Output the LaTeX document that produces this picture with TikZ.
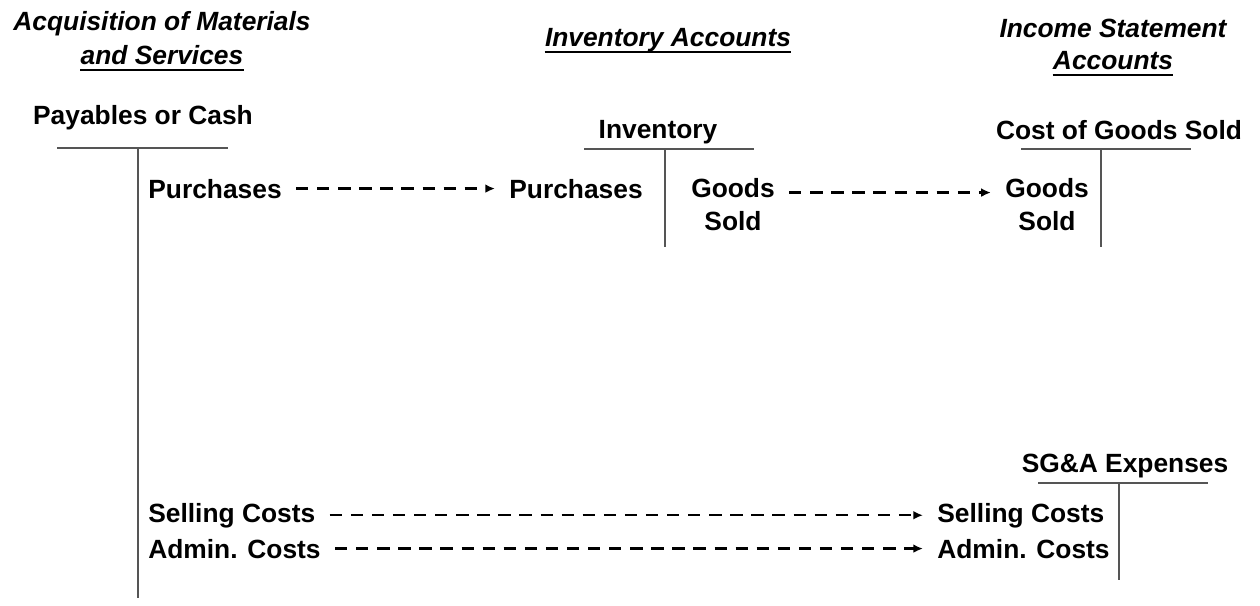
\documentclass[tikz,border=0pt]{standalone}
\usepackage{fontspec}
\setmainfont{Liberation Sans}
\usepackage{tikz}
\usetikzlibrary{arrows.meta,positioning,calc}
\usepackage{xcolor}
\definecolor{tline}{RGB}{85,85,85}

\begin{document}
\begin{tikzpicture}[x=0.02cm,y=-0.02cm,
    txt/.style={inner sep=0pt,font=\fontsize{15}{18.5}\selectfont\bfseries},
    head/.style={txt,font=\fontsize{15}{18.5}\selectfont\bfseries\itshape},
    flow/.style={line width=1.4pt,dash pattern=on 7pt off 5pt,
      -{Latex[length=5.5pt,width=5pt]},shorten <=8pt,shorten >=8pt},
    tacc/.style={tline,line width=1.2pt}]
  \useasboundingbox (0,0) rectangle (1260,605);
  % Column headings
  \node[head,anchor=base] (hacq) at (162,31) {Acquisition of Materials};
  \node[head,anchor=base] (hsrv) at (162,64) {and Services};
  \node[head,anchor=base] (hinv) at (668,46) {Inventory Accounts};
  \node[head,anchor=base] (hinc) at (1113,37) {Income Statement};
  \node[head,anchor=base] (hacc) at (1113,69) {Accounts};
  \foreach \n in {hsrv,hinv,hacc}
    \draw[line width=1.3pt] ([yshift=-3.5pt]\n.base west) -- ([yshift=-3.5pt]\n.base east);
  % T-accounts
  \node[txt,anchor=base] (tpay) at (143,124) {Payables or Cash};
  \draw[tacc] (57,148) -- (228,148) (138,148) -- (138,598);
  \node[txt,anchor=base] (tinv) at (658,138) {Inventory};
  \draw[tacc] (584,149) -- (754,149) (665,149) -- (665,247);
  \node[txt,anchor=base] (tcgs) at (1119,139) {Cost of Goods Sold};
  \draw[tacc] (1021,149) -- (1191,149) (1101,149) -- (1101,247);
  \node[txt,anchor=base] (tsga) at (1125,472) {SG\&A Expenses};
  \draw[tacc] (1038,483) -- (1208,483) (1119,483) -- (1119,580);
  % Entries
  \node[txt,anchor=base west] (pur1) at (148,198) {Purchases};
  \node[txt,anchor=base west] (pur2) at (509,198) {Purchases};
  \node[txt,anchor=base,align=center] (gds1) at (733,230) {Goods\\Sold};
  \node[txt,anchor=base,align=center] (gds2) at (1047,230) {Goods\\Sold};
  \node[txt,anchor=base west] (sel1) at (148,522) {Selling Costs};
  \node[txt,anchor=base west] (sel2) at (937,522) {Selling Costs};
  \node[txt,anchor=base west] (adm1) at (148,558) {Admin. Costs};
  \node[txt,anchor=base west] (adm2) at (937,558) {Admin. Costs};
  % Flows
  \draw[flow] ($(gds1.east |- pur2)+(0,4)$) -- ($(gds2.west |- pur2)+(0,4)$);
  \draw[flow] (pur1) -- (pur2);
  \draw[flow] (sel1) -- (sel2);
  \draw[flow] (adm1) -- (adm2);
\end{tikzpicture}
\end{document}
